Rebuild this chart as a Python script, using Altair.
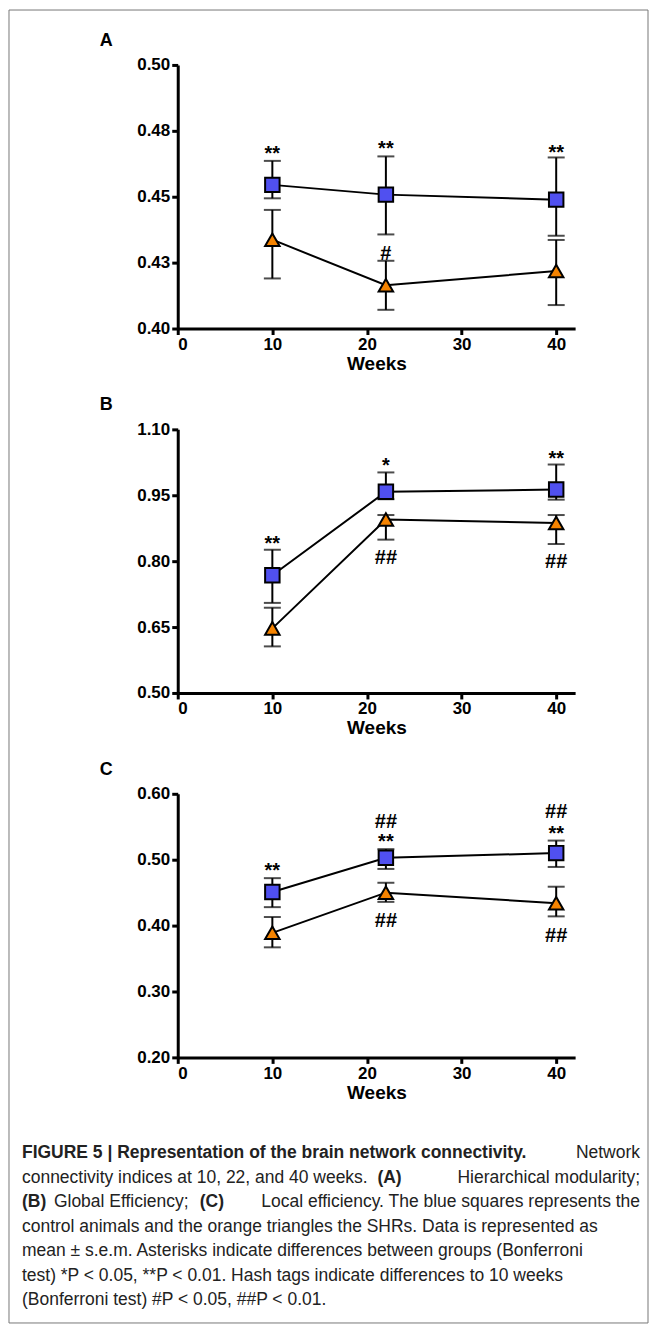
import altair as alt
import pandas as pd

weeks = [10, 22, 40]

# panel A - hierarchical modularity
a_ctrl = [0.4545, 0.4508, 0.4489]
a_ctrl_lo = [0.4494, 0.4357, 0.4352]
a_ctrl_hi = [0.4636, 0.4653, 0.4649]
a_shr = [0.4337, 0.4164, 0.4218]
a_shr_lo = [0.4190, 0.4071, 0.4089]
a_shr_hi = [0.4450, 0.4257, 0.4336]
a_notes = [(10, 0.4674, "**"), (22, 0.4693, "**"), (40, 0.4678, "**"), (22, 0.4293, "#")]

# panel B - global efficiency
b_ctrl = [0.768, 0.958, 0.963]
b_ctrl_lo = [0.705, 0.941, 0.940]
b_ctrl_hi = [0.826, 1.002, 1.020]
b_shr = [0.647, 0.895, 0.887]
b_shr_lo = [0.606, 0.849, 0.839]
b_shr_hi = [0.694, 0.905, 0.905]
b_notes = [(10, 0.846, "**"), (22, 1.024, "*"), (40, 1.039, "**"), (22, 0.815, "##"), (40, 0.804, "##")]

# panel C - local efficiency
c_ctrl = [0.451, 0.503, 0.510]
c_ctrl_lo = [0.428, 0.486, 0.489]
c_ctrl_hi = [0.472, 0.516, 0.529]
c_shr = [0.389, 0.450, 0.434]
c_shr_lo = [0.367, 0.436, 0.414]
c_shr_hi = [0.413, 0.465, 0.459]
c_notes = [(10, 0.488, "**"), (22, 0.531, "**"), (22, 0.562, "##"), (40, 0.544, "**"),
           (40, 0.577, "##"), (22, 0.412, "##"), (40, 0.389, "##")]

caption = [
    "control animals and the orange triangles the SHRs. Data is represented as",
    "mean \u00b1 s.e.m. Asterisks indicate differences between groups (Bonferroni",
    "test) *P < 0.05, **P < 0.01. Hash tags indicate differences to 10 weeks",
    "(Bonferroni test) #P < 0.05, ##P < 0.01.",
]

W, H = 398, 264
FONT = "Liberation Sans"
CAP_FONT = "Liberation Sans"


def panel(letter, ctrl, clo, chi, shr, slo, shi, notes, ydom, yticks, label_expr, extra=None):
    df = pd.DataFrame({
        "week": weeks * 2,
        "group": ["ctrl"] * 3 + ["shr"] * 3,
        "mean": ctrl + shr,
        "lo": clo + slo,
        "hi": chi + shi,
    })
    notes_df = pd.DataFrame(notes, columns=["week", "y", "txt"])
    x = alt.X("week:Q", scale=alt.Scale(domain=[0, 42], nice=False),
              axis=alt.Axis(values=[0, 10, 20, 30, 40], title="Weeks", titleFontSize=19,
                            titleFontWeight="bold", titlePadding=2))
    yscale = alt.Scale(domain=ydom, nice=False, zero=False)
    y = alt.Y("mean:Q", scale=yscale,
              axis=alt.Axis(values=yticks, title=None, labelExpr=label_expr))
    base = alt.Chart(df)
    err = base.mark_rule(color="black", strokeWidth=2).encode(x=x, y=alt.Y("lo:Q", scale=yscale), y2="hi:Q")
    cap_lo = base.mark_tick(orient="horizontal", color="black", size=17, thickness=2).encode(
        x=x, y=alt.Y("lo:Q", scale=yscale))
    cap_hi = base.mark_tick(orient="horizontal", color="black", size=17, thickness=2).encode(
        x=x, y=alt.Y("hi:Q", scale=yscale))
    line = base.mark_line(color="black", strokeWidth=2).encode(x=x, y=y, detail="group:N")
    pts = base.mark_point(filled=True, stroke="black", strokeWidth=2, opacity=1, strokeOpacity=1).encode(
        x=x, y=y,
        shape=alt.Shape("group:N", scale=alt.Scale(domain=["ctrl", "shr"], range=["square", "triangle-up"]), legend=None),
        fill=alt.Fill("group:N", scale=alt.Scale(domain=["ctrl", "shr"], range=["#5050F0", "#F58300"]), legend=None),
        size=alt.value(210),
    )
    txt = alt.Chart(notes_df).mark_text(font=FONT, fontSize=20, fontWeight="bold", baseline="middle", dy=3).encode(
        x=alt.X("week:Q", scale=alt.Scale(domain=[0, 42], nice=False)),
        y=alt.Y("y:Q", scale=yscale), text="txt:N")
    lab = alt.Chart(pd.DataFrame({"t": [letter]})).mark_text(
        font=FONT, fontSize=18, fontWeight="bold", align="left").encode(
        x=alt.value(-78), y=alt.value(-24), text="t:N")
    layers = [err, cap_lo, cap_hi, line, pts, txt, lab]
    if extra:
        layers += extra
    return alt.layer(*layers).properties(width=W, height=H)


def t(x, y, s, bold=False, align="left"):
    return alt.Chart(pd.DataFrame({"t": [s]})).mark_text(
        font=CAP_FONT, fontSize=17.5, fontWeight="bold" if bold else "normal",
        align=align, baseline="middle", color="#222").encode(
        x=alt.value(x), y=alt.value(y), text="t:N")


L, R = -156, 463
lines_y = [360, 384.5, 409, 433.5, 458, 482.5, 507]
extras = [
    alt.Chart(pd.DataFrame({"a": [0]})).mark_rect(fill=None, stroke="#777", strokeWidth=1).encode(
        x=alt.value(-169), x2=alt.value(471), y=alt.value(-785), y2=alt.value(530)),
    t(L, lines_y[0], "FIGURE 5 | Representation of the brain network connectivity.", bold=True),
    t(R, lines_y[0], "Network", align="right"),
    t(L, lines_y[1], "connectivity indices at 10, 22, and 40 weeks."),
    t(200, lines_y[1], "(A)", bold=True),
    t(R, lines_y[1], "Hierarchical modularity;", align="right"),
    t(L, lines_y[2], "(B)", bold=True),
    t(-124, lines_y[2], "Global Efficiency;"),
    t(22, lines_y[2], "(C)", bold=True),
    t(R, lines_y[2], "Local efficiency. The blue squares represents the", align="right"),
]
for i, s in enumerate(caption):
    extras.append(t(L, lines_y[3 + i], s))

pa = panel("A", a_ctrl, a_ctrl_lo, a_ctrl_hi, a_shr, a_shr_lo, a_shr_hi, a_notes,
           [0.40, 0.50], [0.40, 0.425, 0.45, 0.475, 0.50],
           "datum.value == 0.425 ? '0.43' : datum.value == 0.475 ? '0.48' : format(datum.value, '.2f')")
pb = panel("B", b_ctrl, b_ctrl_lo, b_ctrl_hi, b_shr, b_shr_lo, b_shr_hi, b_notes,
           [0.50, 1.10], [0.50, 0.65, 0.80, 0.95, 1.10], "format(datum.value, '.2f')")
pc = panel("C", c_ctrl, c_ctrl_lo, c_ctrl_hi, c_shr, c_shr_lo, c_shr_hi, c_notes,
           [0.20, 0.60], [0.20, 0.30, 0.40, 0.50, 0.60], "format(datum.value, '.2f')", extra=extras)

chart = alt.vconcat(pa, pb, pc, spacing=101, bounds="flush").properties(padding=0).configure_view(
    stroke=None
).configure_axis(
    domainColor="black", domainWidth=3, tickColor="black", tickWidth=3, tickSize=6,
    labelFont=FONT, labelFontSize=17, labelFontWeight="bold", labelColor="black",
    titleFont=FONT, titleColor="black", grid=False, labelPadding=2,
)

chart.save("out.html", embed_options={"renderer": "svg", "actions": False})
